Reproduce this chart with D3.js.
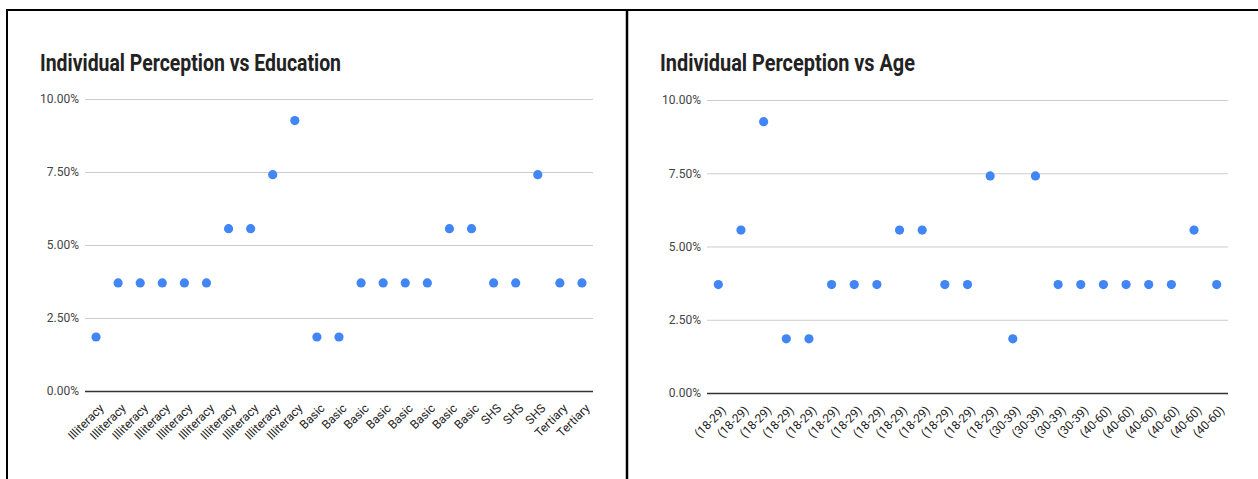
<!DOCTYPE html>
<html><head><meta charset="utf-8">
<script src="https://cdn.jsdelivr.net/npm/d3@7"></script>
<style>
html,body{margin:0;padding:0;background:#fff;}
svg{display:block;font-family:Roboto,"Noto Sans",sans-serif;}
</style></head>
<body>
<svg id="c" width="1258" height="479"></svg>
<script>
const eduCategories = ["Illiteracy","Illiteracy","Illiteracy","Illiteracy","Illiteracy","Illiteracy","Illiteracy","Illiteracy","Illiteracy","Illiteracy","Basic","Basic","Basic","Basic","Basic","Basic","Basic","Basic","SHS","SHS","SHS","Tertiary","Tertiary"];
const eduValues = [1.85,3.70,3.70,3.70,3.70,3.70,5.56,5.56,7.41,9.26,1.85,1.85,3.70,3.70,3.70,3.70,5.56,5.56,3.70,3.70,7.41,3.70,3.70];
const ageCategories = ["(18-29)","(18-29)","(18-29)","(18-29)","(18-29)","(18-29)","(18-29)","(18-29)","(18-29)","(18-29)","(18-29)","(18-29)","(18-29)","(30-39)","(30-39)","(30-39)","(30-39)","(40-60)","(40-60)","(40-60)","(40-60)","(40-60)","(40-60)"];
const ageValues = [3.70,5.56,9.26,1.85,1.85,3.70,3.70,3.70,5.56,5.56,3.70,3.70,7.41,1.85,7.41,3.70,3.70,3.70,3.70,3.70,3.70,5.56,3.70];
const yTicks = [0,2.5,5,7.5,10];

const svg = d3.select("#c");

// frame lines
svg.append("line").attr("x1",6).attr("x2",1258).attr("y1",10).attr("y2",10).attr("stroke","#000").attr("stroke-width",2);
svg.append("line").attr("x1",7).attr("x2",7).attr("y1",9).attr("y2",479).attr("stroke","#000").attr("stroke-width",2);
svg.append("line").attr("x1",627).attr("x2",627).attr("y1",9).attr("y2",479).attr("stroke","#000").attr("stroke-width",2.5);

function panel(cfg){
  const g = svg.append("g");
  const x = d3.scalePoint().domain(d3.range(cfg.cats.length)).range([cfg.x0,cfg.x1]).padding(0.5);
  const y = d3.scaleLinear().domain([0,10]).range([cfg.y0,cfg.y1]);
  g.append("text").attr("x",cfg.tx).attr("y",cfg.ty).attr("font-weight","bold").attr("font-size",23)
    .attr("fill","#222").attr("textLength",cfg.tw).attr("lengthAdjust","spacingAndGlyphs").text(cfg.title);
  const ya = d3.axisLeft(y).tickValues(yTicks).tickSize(-(cfg.x1-cfg.x0)).tickPadding(6)
    .tickFormat(d=>d3.format(".2f")(d)+"%");
  const yg = g.append("g").attr("transform",`translate(${cfg.x0},0)`).call(ya);
  yg.select(".domain").remove();
  yg.selectAll(".tick line").attr("stroke",d=>d===0?"#333":"#ccc").attr("stroke-width",d=>d===0?1.5:1);
  yg.selectAll(".tick text").attr("font-size",12).attr("fill","#444").attr("font-family","Roboto");
  const xa = d3.axisBottom(x).tickSize(0).tickFormat(i=>cfg.cats[i]);
  const xg = g.append("g").attr("transform",`translate(0,${cfg.y0})`).call(xa);
  xg.select(".domain").remove();
  xg.selectAll(".tick text").attr("font-size",12).attr("fill","#222").attr("font-family","Roboto")
    .attr("text-anchor","end").attr("dy",0).attr("y",0)
    .attr("transform","translate(8,18) rotate(-45)");
  g.selectAll("circle.pt").data(cfg.vals).join("circle").attr("class","pt")
    .attr("cx",(d,i)=>x(i)).attr("cy",d=>y(d)).attr("r",4.6).attr("fill","#4285f4");
}

panel({cats:eduCategories, vals:eduValues, x0:85, x1:593, y0:391, y1:99,
  title:"Individual Perception vs Education", tx:40, ty:71, tw:301});
panel({cats:ageCategories, vals:ageValues, x0:707, x1:1228, y0:393, y1:100,
  title:"Individual Perception vs Age", tx:660, ty:71, tw:255});
</script>
</body></html>
